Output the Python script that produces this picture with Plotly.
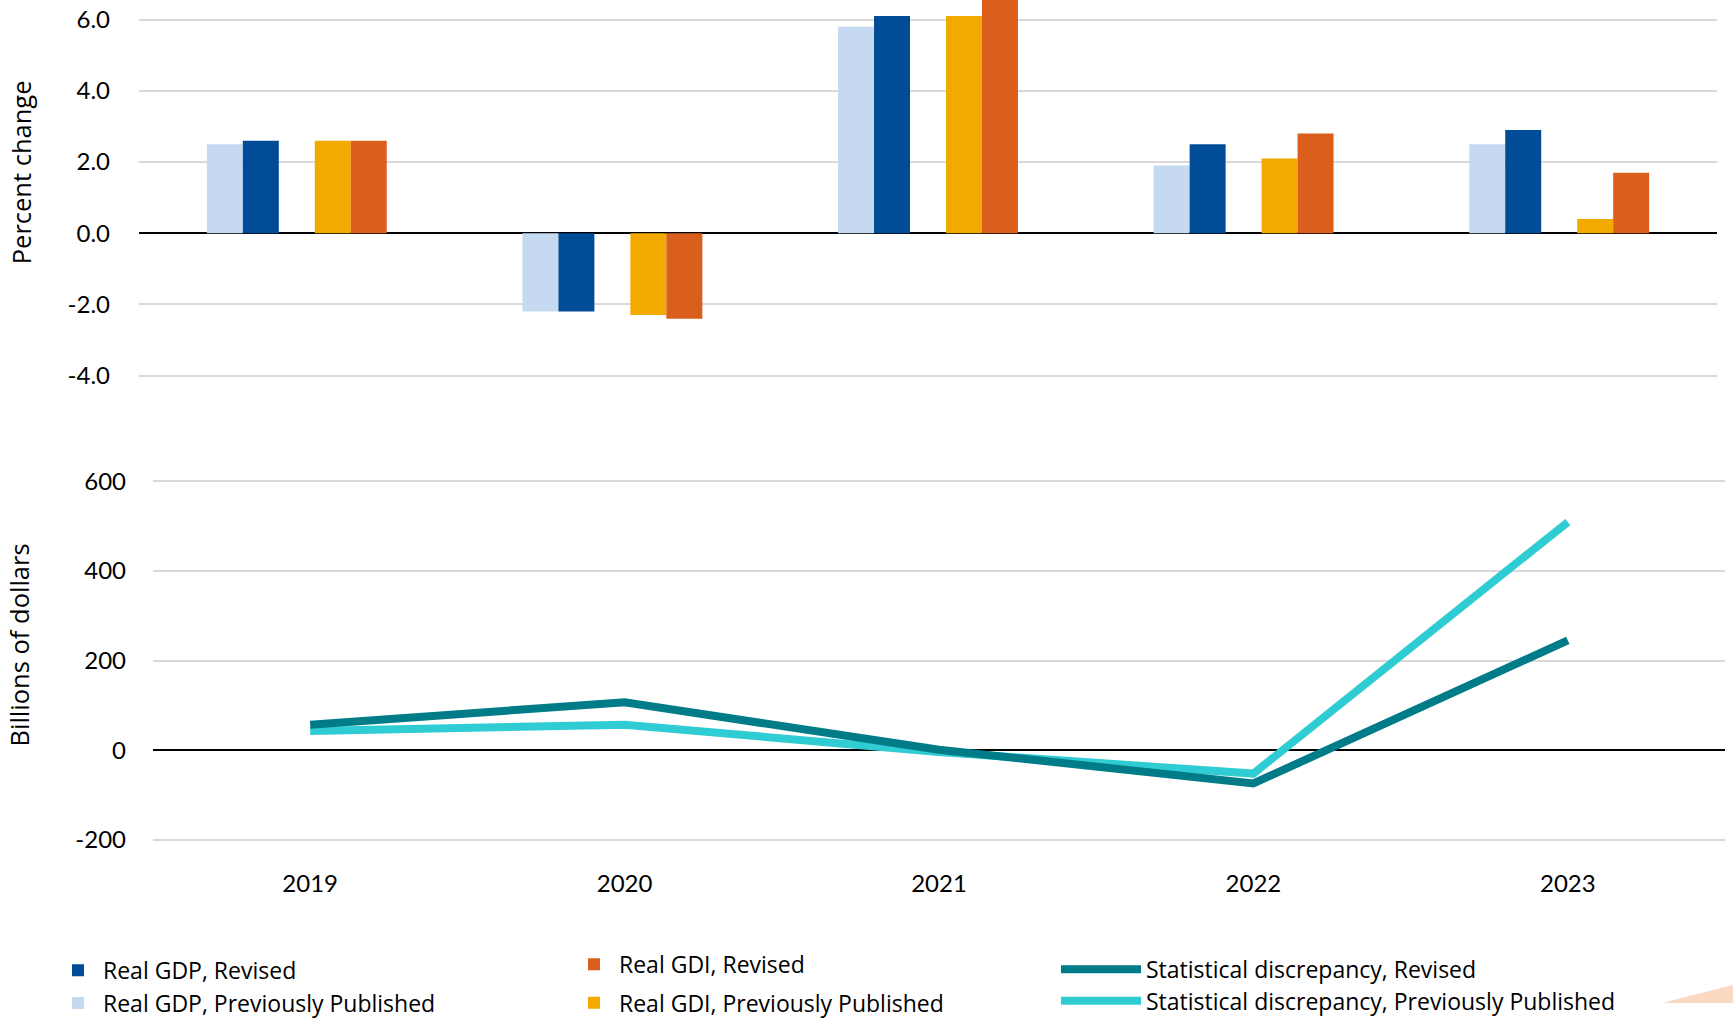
import plotly.graph_objects as go

# ---------------- data ----------------
years = ["2019", "2020", "2021", "2022", "2023"]

gdp_revised = [2.6, -2.2, 6.1, 2.5, 2.9]
gdp_prev = [2.5, -2.2, 5.8, 1.9, 2.5]
gdi_revised = [2.6, -2.4, 6.6, 2.8, 1.7]
gdi_prev = [2.6, -2.3, 6.1, 2.1, 0.4]

sd_revised = [57, 107, 1, -74, 245]
sd_prev = [43, 57, -4, -52, 509]

top_tickvals = [-4, -2, 0, 2, 4, 6]
top_ticktext = ["-4.0", "-2.0", "0.0", "2.0", "4.0", "6.0"]
bot_tickvals = [-200, 0, 200, 400, 600]
bot_ticktext = ["-200", "0", "200", "400", "600"]

# ---------------- style ----------------
C_GDP_PREV = "#C5D9F0"
C_GDP_REV = "#004C97"
C_GDI_PREV = "#F2AA00"
C_GDI_REV = "#DA5F1C"
C_SD_REV = "#007C89"
C_SD_PREV = "#2FCCD3"

W = 1733
H = 1025
S = 1025 / 1037  # observed vertical scale of the photographed page
BW = 0.114  # bar width in category units


def py(y_px):
    """paper y fraction for a target pixel row (from top) in the photo"""
    return 1 - (y_px / S) / H


TICK_FONT = dict(family="Lato", size=24, color="#000000")
LEG_FONT = dict(family="Open Sans", size=23, color="#000000")
TITLE_FONT = dict(family="Open Sans", size=25.5, color="#000000")

fig = go.Figure()

bars = [
    ("Real GDP, Previously Published", gdp_prev, C_GDP_PREV, -2.5 * BW, "legend2"),
    ("Real GDP, Revised", gdp_revised, C_GDP_REV, -1.5 * BW, "legend"),
    ("Real GDI, Previously Published", gdi_prev, C_GDI_PREV, 0.5 * BW, "legend4"),
    ("Real GDI, Revised", gdi_revised, C_GDI_REV, 1.5 * BW, "legend3"),
]
for name, vals, col, off, leg in bars:
    fig.add_trace(go.Bar(
        x=years, y=vals, name=name, marker=dict(color=col, line=dict(width=0)),
        width=BW, offset=off, xaxis="x", yaxis="y", legend=leg,
    ))

fig.add_trace(go.Scatter(
    x=years, y=sd_prev, name="Statistical discrepancy, Previously Published",
    mode="lines", line=dict(color=C_SD_PREV, width=8), xaxis="x2", yaxis="y2",
    legend="legend6",
))
fig.add_trace(go.Scatter(
    x=years, y=sd_revised, name="Statistical discrepancy, Revised",
    mode="lines", line=dict(color=C_SD_REV, width=8), xaxis="x2", yaxis="y2",
    legend="legend5",
))

grid = dict(showgrid=True, gridcolor="#D9D9D9", gridwidth=2)


def leg(x_px, yc_px, itemwidth):
    return dict(x=x_px / W, y=max(py(yc_px), 0.0), xanchor="left", yanchor="middle",
                orientation="v", font=LEG_FONT, itemwidth=itemwidth,
                bgcolor="rgba(0,0,0,0)", borderwidth=0)


fig.update_layout(
    width=W, height=H,
    margin=dict(l=0, r=0, t=0, b=0),
    paper_bgcolor="white", plot_bgcolor="white",
    barmode="overlay",
    showlegend=True,
    xaxis=dict(domain=[139 / W, 1717 / W], type="category", range=[-0.5, 4.5],
               showticklabels=False, showgrid=False, zeroline=False, anchor="y"),
    yaxis=dict(domain=[py(383), 1], range=[-4.1, 6.55], anchor="x",
               tickvals=top_tickvals, ticktext=top_ticktext, tickfont=TICK_FONT,
               zeroline=True, zerolinecolor="#000000", zerolinewidth=2,
               ticklabelstandoff=28, **grid),
    xaxis2=dict(domain=[153 / W, 1725 / W], type="category", range=[-0.5, 4.5],
                showgrid=False, zeroline=False, anchor="y2", tickfont=TICK_FONT,
                ticklabelstandoff=14),
    yaxis2=dict(domain=[py(862), py(468)], range=[-230, 640], anchor="x2",
                tickvals=bot_tickvals, ticktext=bot_ticktext, tickfont=TICK_FONT,
                zeroline=True, zerolinecolor="#000000", zerolinewidth=2,
                ticklabelstandoff=26, **grid),
    legend=leg(53, 980, 40),
    legend2=leg(53, 1017, 40),
    legend3=leg(569, 974, 40),
    legend4=leg(569, 1013, 40),
    legend5=leg(1056, 979, 80),
    legend6=leg(1056, 1011, 80),
    annotations=[
        dict(text="Percent change", x=21 / W, y=py(174), xref="paper", yref="paper",
             textangle=-90, showarrow=False, xanchor="center", yanchor="middle",
             font=TITLE_FONT),
        dict(text="Billions of dollars", x=19 / W, y=py(652), xref="paper", yref="paper",
             textangle=-90, showarrow=False, xanchor="center", yanchor="middle",
             font=TITLE_FONT),
    ],
    shapes=[
        dict(type="path", xref="paper", yref="paper",
             path=f"M {1662 / W},0 L 1,{py(995)} L 1,0 Z",
             fillcolor="#FAD8C2", line=dict(width=0), layer="below"),
    ],
)

page_fix = (
    "var de=document.documentElement, b=document.body;"
    "de.style.margin='0'; de.style.padding='0';"
    "b.style.margin='0'; b.style.padding='0';"
)

fig.write_html("out.html", post_script=page_fix, config={"displayModeBar": False})
